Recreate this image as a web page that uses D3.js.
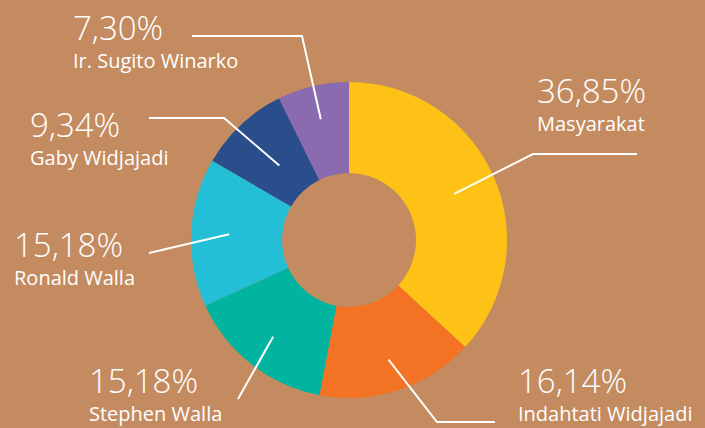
<!DOCTYPE html>
<html>
<head>
<meta charset="utf-8">
<script src="https://cdn.jsdelivr.net/npm/d3@7"></script>
<style>
  html, body { margin: 0; padding: 0; background: #c48b60; }
  svg { display: block; }
</style>
</head>
<body>
<svg id="chart"></svg>
<script>
// Donut chart - share of ownership
const width = 705;
const height = 428;

const names = ["Masyarakat", "Indahtati Widjajadi", "Stephen Walla", "Ronald Walla", "Gaby Widjajadi", "Ir. Sugito Winarko"];
const shares = [36.85, 16.14, 15.18, 15.18, 9.34, 7.30];
const colors = ["#fec216", "#f37224", "#00b4a0", "#23bfd6", "#2a4e8c", "#8a6bb0"];

// label placement: text anchor, radius where the leader starts, leader bend points
const labelLayout = [
    { x: 537, y: 103, r: 115, bends: [[533, 154], [637, 154]] },
    { x: 518, y: 393, r: 126, bends: [[437, 422], [495, 422]] },
    { x: 89,  y: 393, r: 123, bends: [[238, 399]] },
    { x: 14,  y: 257, r: 120, bends: [[149, 253]] },
    { x: 30,  y: 137, r: 102, bends: [[224, 118], [149, 118]] },
    { x: 73,  y: 40,  r: 124, bends: [[302, 36], [192, 36]] }
];

const cx = 349, cy = 240;
const outerR = 158, innerR = 67;

const svg = d3.select("#chart")
    .attr("width", width)
    .attr("height", height);

svg.append("rect")
    .attr("width", width)
    .attr("height", height)
    .attr("fill", "#c48b60");

const pie = d3.pie().sort(null).value(d => d);
const arcs = pie(shares);

const arc = d3.arc().innerRadius(innerR).outerRadius(outerR);

const g = svg.append("g").attr("transform", `translate(${cx},${cy})`);

g.selectAll(".slice")
    .data(arcs)
    .enter()
    .append("path")
    .attr("class", "slice")
    .attr("d", arc)
    .attr("fill", (d, i) => colors[i]);

// leader lines
const fmt = v => v.toFixed(2).replace(".", ",") + "%";

svg.selectAll(".leader")
    .data(arcs)
    .enter()
    .append("polyline")
    .attr("class", "leader")
    .attr("fill", "none")
    .attr("stroke", "#ffffff")
    .attr("stroke-width", 2)
    .attr("points", (d, i) => {
        const lay = labelLayout[i];
        const [sx, sy] = d3.arc().innerRadius(lay.r).outerRadius(lay.r).centroid(d);
        const pts = [[cx + sx, cy + sy]].concat(lay.bends);
        return pts.map(p => p.join(",")).join(" ");
    });

// labels
const labels = svg.selectAll(".label")
    .data(arcs)
    .enter()
    .append("g")
    .attr("class", "label")
    .attr("transform", (d, i) => `translate(${labelLayout[i].x},${labelLayout[i].y})`);

labels.append("text")
    .attr("fill", "#ffffff")
    .style("font-family", "'Open Sans', sans-serif")
    .style("font-weight", 300)
    .style("font-size", "33px")
    .text(d => fmt(d.data));

labels.append("text")
    .attr("y", 28)
    .attr("fill", "#ffffff")
    .style("font-family", "'Open Sans', sans-serif")
    .style("font-size", "20px")
    .text((d, i) => names[i]);
</script>
</body>
</html>
